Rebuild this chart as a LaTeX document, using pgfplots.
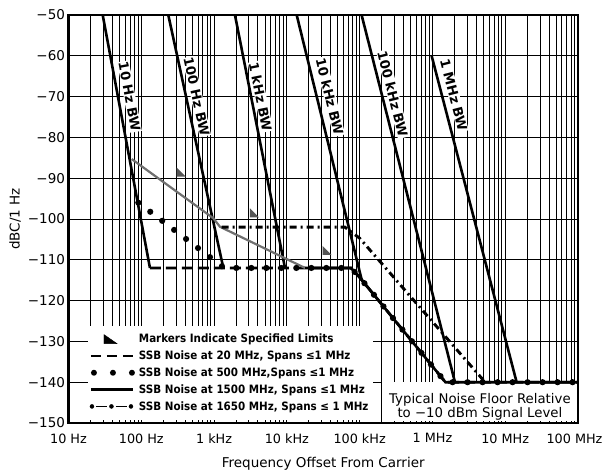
\documentclass[border=0pt]{standalone}
\usepackage{fontspec}
\setmainfont{DejaVu Sans}
\newfontfamily\legfont[FakeStretch=0.9]{DejaVu Sans}
\usepackage{pgfplots}
\pgfplotsset{compat=1.18}
\pgfdeclareplotmark{speclim}{%
  \pgfpathmoveto{\pgfpoint{0pt}{0pt}}%
  \pgfpathlineto{\pgfpoint{0pt}{9pt}}%
  \pgfpathlineto{\pgfpoint{9pt}{0pt}}%
  \pgfpathclose\pgfusepathqfill}
\definecolor{midgray}{HTML}{707070}
\definecolor{markgray}{HTML}{555555}
\begin{document}
\begin{tikzpicture}
\useasboundingbox (-68.5pt,-49pt) rectangle (535.5pt,423pt);
\begin{axis}[
  at={(0pt,0pt)}, anchor=south west,
  scale only axis, width=509.5pt, height=408pt,
  xmode=log, xmin=10, xmax=1e8, ymin=-150, ymax=-50,
  xtick={10,100,1000,10000,100000,1000000,10000000,100000000},
  xticklabels={10 Hz,100 Hz,1 kHz,10 kHz,100 kHz,1 MHz,10 MHz,100 MHz\kern7pt},
  ytick={-150,-140,-130,-120,-110,-100,-90,-80,-70,-60,-50},
  yticklabels={−150,−140,−130,−120,−110,−100,−90,−80,−70,−60,−50},
  xmajorgrids, xminorgrids, ymajorgrids,
  grid style={black, line width=0.9pt},
  minor grid style={black, line width=0.8pt},
  axis line style={line width=2.6pt},
  tick style={black, line width=0.8pt},
  yticklabel style={font=\fontsize{13.5}{16}\selectfont},
  xticklabel style={font=\fontsize{12.8}{16}\selectfont, yshift=-7pt},
  xlabel={Frequency Offset From Carrier},
  ylabel={dBC/1 Hz},
  label style={font=\fontsize{13.5}{16}\selectfont},
  xlabel style={at={(axis description cs:0.5,-0.1)}, anchor=center},
  ylabel style={at={(axis description cs:-0.105,0.5)}, anchor=center},
  legend cell align=left,
  legend style={draw=none, fill=white, at={(axis description cs:0.037,0.008)}, anchor=south west,
     font=\legfont\fontsize{11.5}{12}\selectfont\bfseries, row sep=2.6pt, inner xsep=2pt, inner ysep=6pt},
]
% noise floor box
\fill[white] (axis cs:2.05e5,-140) rectangle (axis cs:9.6e7,-149.5);

% bandwidth skirts
\addplot[black, line width=2.6pt, forget plot] coordinates {(29.5,-50) (131.5,-112)};
\addplot[black, line width=2.6pt, forget plot] coordinates {(235,-50) (1340,-112)};
\addplot[black, line width=2.6pt, forget plot] coordinates {(1936,-50) (9420,-112)};
\addplot[black, line width=2.6pt, forget plot] coordinates {(13650,-50) (107000,-115)};
\addplot[black, line width=2.6pt, forget plot] coordinates {(106400,-50) (2040000,-140)};
\addplot[black, line width=2.6pt, forget plot] coordinates {(975000,-60) (14350000,-140)};

% SSB noise at 20 MHz (dashed)
\addplot[black, line width=2.8pt, dash pattern=on 11pt off 5pt, forget plot] coordinates {
 (131.5,-112) (75900,-112) (100000,-114.3) (1510000,-140) (100000000,-140)};
% SSB noise at 1500 MHz (solid)
\addplot[midgray, line width=2.2pt, forget plot] coordinates {
 (73.8,-85.3) (975,-99.8) (1205,-101.9) (17780,-112)};
\addplot[black, line width=2.6pt, forget plot] coordinates {
 (17780,-112) (75900,-112) (100000,-114.3) (1510000,-140) (100000000,-140)};
% SSB noise at 1650 MHz (dash-dot)
\addplot[black, line width=2.9pt, dash pattern=on 7pt off 4pt on 2pt off 4pt, forget plot] coordinates {
 (1270,-102) (62800,-102) (100000,-104.7) (5300000,-140)};
% SSB noise at 500 MHz (dots)
\addplot[black, line width=6.2pt, line cap=round, dash pattern=on 0pt off 15pt, forget plot] coordinates {
 (91,-96) (1380,-112) (75900,-112) (100000,-114.3) (1510000,-140) (100000000,-140)};

% specified limits markers
\addplot[only marks, mark=speclim, markgray, forget plot] coordinates {(306,-89.6) (3110,-99.6) (31000,-108.8)};

% bandwidth labels
\begin{scope}[every node/.style={fill=white, inner sep=0.8pt, font=\fontsize{13.2}{14}\selectfont\bfseries}]
\node[rotate=-79.4] at (axis cs:69,-70) {10 Hz BW};
\node[rotate=-77.5] at (axis cs:575,-70) {100 Hz BW};
\node[rotate=-78.6] at (axis cs:4350,-70) {1 kHz BW};
\node[rotate=-76.2] at (axis cs:38800,-70) {10 kHz BW};
\node[rotate=-75.8] at (axis cs:285000,-69.4) {100 kHz BW};
\node[rotate=-75.5] at (axis cs:1960000,-69.6) {1 MHz BW};
\end{scope}

\node[align=center, font=\fontsize{13.3}{13.5}\selectfont, inner sep=0pt] at (axis cs:4490000,-146) {Typical Noise Floor Relative\\to −10 dBm Signal Level};

% legend
\addlegendimage{legend image code/.code={\fill[black] (13pt,-4.5pt) -- (13pt,4.5pt) -- (26pt,-4.5pt) -- cycle;}}
\addlegendentry{Markers Indicate Specified Limits}
\addlegendimage{legend image code/.code={\draw[black, line width=2.8pt, dash pattern=on 10pt off 6pt] (0pt,0pt) -- (42pt,0pt);}}
\addlegendentry{SSB Noise at 20 MHz, Spans ≤1 MHz}
\addlegendimage{legend image code/.code={\draw[black, line width=6pt, line cap=round, dash pattern=on 0pt off 19pt] (3pt,0pt) -- (43pt,0pt);}}
\addlegendentry{SSB Noise at 500 MHz,Spans ≤1 MHz}
\addlegendimage{legend image code/.code={\draw[black, line width=2.5pt] (0pt,0pt) -- (42pt,0pt);}}
\addlegendentry{SSB Noise at 1500 MHz, Spans ≤1 MHz}
\addlegendimage{legend image code/.code={\draw[black, line width=1.8pt] (5pt,0pt) -- (16pt,0pt) (25pt,0pt) -- (36pt,0pt); \fill[black] (1pt,0pt) circle (2pt) (20.5pt,0pt) circle (2pt) (40pt,0pt) circle (2pt);}}
\addlegendentry{SSB Noise at 1650 MHz, Spans ≤ 1 MHz}
\end{axis}
\end{tikzpicture}
\end{document}
